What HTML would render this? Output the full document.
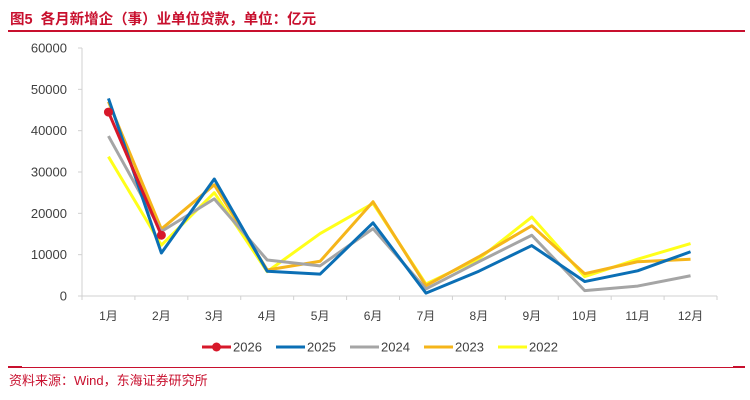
<!DOCTYPE html>
<html><head><meta charset="utf-8"><style>
body{margin:0;background:#fff;width:750px;height:400px;overflow:hidden;font-family:"Liberation Sans","Noto Sans CJK SC",sans-serif}
</style></head><body>
<svg width="750" height="400" style="position:absolute;left:0;top:0">
<text x="10" y="24" font-size="14.5" font-weight="bold" fill="#c8102e" xml:space="preserve" font-family="Liberation Sans,Noto Sans CJK SC,sans-serif">图5  各月新增企（事）业单位贷款，单位：亿元</text>
<rect x="8" y="30" width="737" height="2" fill="#c8102e"/>
<g id="axes"></g>
<g id="series"></g>
<g id="legend"></g>
<rect x="8" y="367" width="737" height="1" fill="#c8102e"/>
<rect x="8" y="366" width="14" height="2" fill="#c8102e"/>
<rect x="733" y="366" width="12" height="2" fill="#c8102e"/>
<text x="9" y="385" font-size="13" fill="#c8102e" font-family="Liberation Sans,Noto Sans CJK SC,sans-serif">资料来源：Wind，东海证券研究所</text>
</svg>
<script>
const categories=["1月","2月","3月","4月","5月","6月","7月","8月","9月","10月","11月","12月"];
const yTicks=[0,10000,20000,30000,40000,50000,60000];
const s2026=[44500,14700];
const s2025=[47800,10400,28300,6000,5300,17700,700,6000,12200,3500,6100,10700];
const s2024=[38700,15600,23500,8700,7300,16300,1700,8300,14700,1300,2400,4900];
const s2023=[47000,16200,26900,6300,8400,22800,2500,9500,17000,5400,8300,8900];
const s2022=[33700,12300,25000,5900,15100,22400,2900,9000,19100,4700,8900,12700];
const seriesNames=["2026","2025","2024","2023","2022"];
const NS="http://www.w3.org/2000/svg";
const x0=82,x1=717,yb=296,yt=48,ymax=60000;
const step=(x1-x0)/categories.length;
const X=i=>x0+step*(i+0.5);
const Y=v=>yb-(v/ymax)*(yb-yt);
function mk(tag,attrs,parent){const e=document.createElementNS(NS,tag);for(const k in attrs)e.setAttribute(k,attrs[k]);parent.appendChild(e);return e;}
const axes=document.getElementById('axes');
let e=mk('line',{x1:x0,y1:yt,x2:x0,y2:yb,stroke:'#d0d0d0','stroke-width':1},axes);


e=mk('line',{x1:x0,y1:yb,x2:x1,y2:yb,stroke:'#d0d0d0','stroke-width':1},axes);


yTicks.forEach(v=>{
 const t=mk('line',{x1:x0-4,y1:Y(v),x2:x0,y2:Y(v),stroke:'#d0d0d0'},axes);
 
 
 const l=mk('text',{x:67,y:Y(v)+4.5,'font-size':13,fill:'#404040','text-anchor':'end'},axes);
 l.textContent=v;
 
 
});
for(let i=0;i<=categories.length;i++){
 const t=mk('line',{x1:x0+step*i,y1:yb,x2:x0+step*i,y2:yb+4,stroke:'#d0d0d0'},axes);
 
 
}
categories.forEach((c,i)=>{
 const l=mk('text',{x:X(i),y:320,'font-size':12,fill:'#404040','text-anchor':'middle'},axes);
 l.textContent=c;
 
 
});
const colors=["#d7182a","#0b6fb5","#a5a5a5","#f5b51a","#ffff1a"];
const data=[s2026,s2025,s2024,s2023,s2022];
const sg=document.getElementById('series');
for(let k=data.length-1;k>=0;k--){
 const p=mk('polyline',{points:data[k].map((v,i)=>X(i)+','+Y(v)).join(' '),fill:'none',stroke:colors[k],'stroke-width':3,'stroke-linejoin':'round'},sg);
 
 
 if(k===0){data[k].forEach((v,i)=>{
  const c=mk('circle',{cx:X(i),cy:Y(v),r:4.5,fill:colors[k]},sg);
  
  
 });}
}
const lg=document.getElementById('legend');
const lx=[202,276,350,424,498];
seriesNames.forEach((n,k)=>{
 const g=mk('g',{},lg);
 
 
 mk('line',{x1:lx[k],y1:347,x2:lx[k]+29,y2:347,stroke:colors[k],'stroke-width':3},g);
 if(k===0)mk('circle',{cx:lx[k]+14.5,cy:347,r:4.5,fill:colors[k]},g);
 const t=mk('text',{x:lx[k]+31,y:351.5,'font-size':13,fill:'#404040'},g);
 t.textContent=n;
});
</script>
</body></html>
